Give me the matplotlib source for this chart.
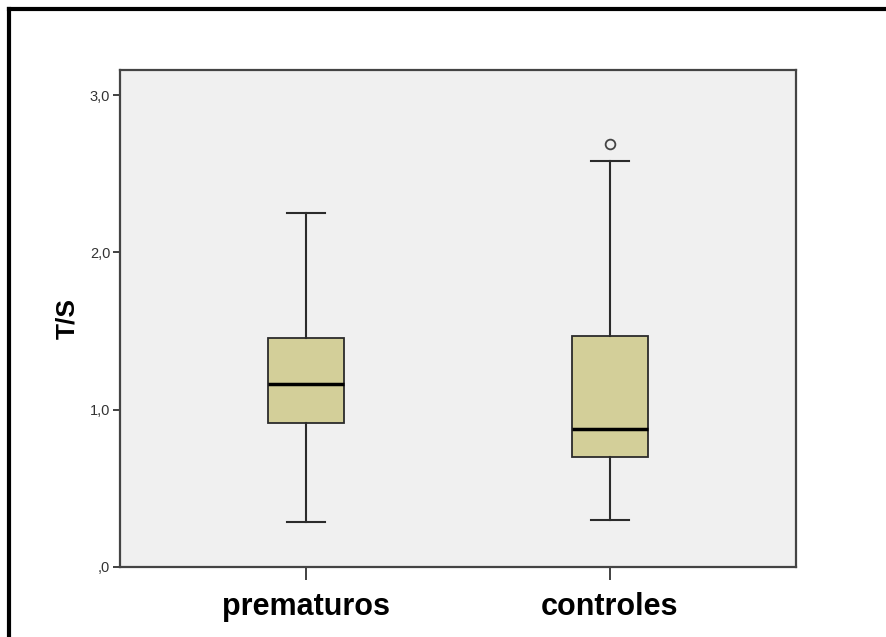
import matplotlib
matplotlib.use("Agg")
import matplotlib.pyplot as plt
from matplotlib.lines import Line2D

plt.rcParams['font.family'] = ['Liberation Sans', 'DejaVu Sans']

# --- Data ---
groups = ['prematuros', 'controles']
whislo = [0.286, 0.30]
q1 = [0.915, 0.70]
medians = [1.163, 0.877]
q3 = [1.456, 1.469]
whishi = [2.25, 2.58]
fliers = [[], [2.69]]
yticks = [0.0, 1.0, 2.0, 3.0]
ytick_labels = [',0', '1,0', '2,0', '3,0']

stats = []
for i, name in enumerate(groups):
    stats.append({
        'label': name, 'whislo': whislo[i], 'q1': q1[i], 'med': medians[i],
        'q3': q3[i], 'whishi': whishi[i], 'fliers': fliers[i],
    })

fig = plt.figure(figsize=(8.86, 6.37), dpi=100)
ax = fig.add_axes([0.1354, 0.1099, 0.7630, 0.7802])
ax.set_facecolor('#f0f0f0')

edge = '#2b2b2b'
ax.bxp(
    stats, positions=[1, 2], widths=0.253, patch_artist=True,
    showfliers=True,
    boxprops=dict(facecolor='#d3cf99', edgecolor=edge, linewidth=1.3),
    medianprops=dict(color='black', linewidth=2.5),
    whiskerprops=dict(color=edge, linewidth=1.5),
    capprops=dict(color=edge, linewidth=1.5),
    capwidths=0.125,
    flierprops=dict(marker='o', markerfacecolor='none', markeredgecolor='#444444',
                    markersize=7, markeredgewidth=1.3),
)

ax.set_xlim(0.388, 2.612)
ax.set_ylim(0, 3.16)
ax.set_yticks(yticks)
ax.set_yticklabels(ytick_labels, fontsize=10.5, color='#333333')
ax.set_xticks([1, 2])
ax.set_xticklabels(groups, fontsize=22, fontweight='bold')
ax.tick_params(axis='y', length=5, width=1.3, color='#333333', pad=2)
ax.tick_params(axis='x', length=9, width=1.3, color='#333333', pad=9)
for s in ax.spines.values():
    s.set_color('#444444')
    s.set_linewidth(1.6)

ax.set_ylabel('T/S', fontsize=19, fontweight='bold', labelpad=8)

# outer frame (top and left edges, as in the cropped source)
fig.add_artist(Line2D([0.0099, 1.0], [1 - 0.0134, 1 - 0.0134], color='black', lw=3,
                      transform=fig.transFigure))
fig.add_artist(Line2D([0.0099, 0.0099], [0.0, 1 - 0.0134], color='black', lw=3,
                      transform=fig.transFigure))

fig.savefig('out.png', dpi=100)
